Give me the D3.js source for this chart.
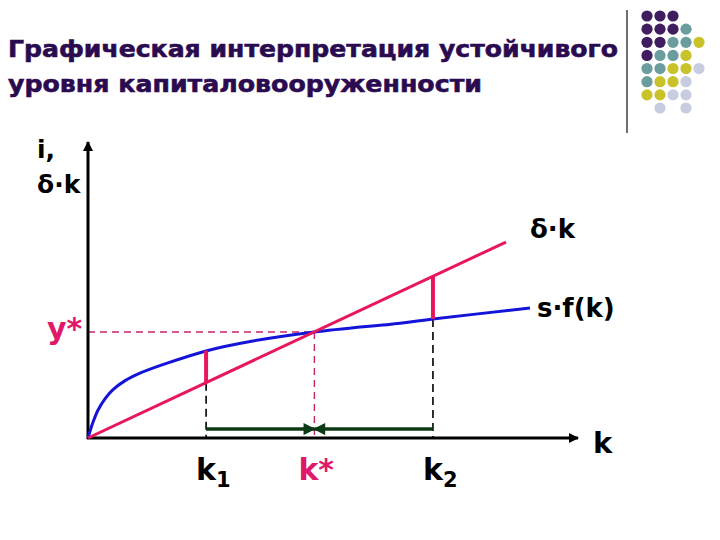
<!DOCTYPE html>
<html>
<head>
<meta charset="utf-8">
<script src="https://cdn.jsdelivr.net/npm/d3@7"></script>
<style>
  html, body { margin: 0; padding: 0; background: #fff; }
  svg text { font-family: "DejaVu Sans", Verdana, sans-serif; font-weight: bold; }
</style>
</head>
<body>
<div id="chart"></div>
<script>
// chart values (k units along the horizontal axis, i / output along the vertical)
const titleLines = ["Графическая интерпретация устойчивого", "уровня капиталовооруженности"];
const titleWidths = [610, 474];
const savingCurve = [[0, 0], [0.1, 0.52], [0.2, 0.93], [0.35, 1.33], [0.5, 1.62], [0.75, 1.93],
                     [1.06, 2.19], [1.6, 2.52], [2.43, 2.95], [3.31, 3.26], [4.62, 3.58],
                     [6.37, 3.88], [7.04, 4.02], [9.02, 4.39]];
const depreciationLine = [[0, 0], [8.53, 6.62]];
const kMarks = [{name: "k1", k: 2.41, curve: 2.95, line: 1.87},
                {name: "k2", k: 7.04, curve: 4.02, line: 5.46}];
const steady = {k: 4.62, y: 3.58};
const arrowY = 0.3;
// decoration dots, top right (P purple, T teal, Y yellow, L lavender)
const dotRows = ["PPP..", "PPPT.", "PPTTY", "PTTY.", "TTYYL", "TYYL.", "YYLL.", ".L.L."];
const dotColors = {P: "#3f1d5e", T: "#6b9c9e", Y: "#c9c22a", L: "#c8cce0"};

const W = 720, H = 540;
const svg = d3.select("#chart").append("svg").attr("width", W).attr("height", H);

const x = d3.scaleLinear().domain([0, 10]).range([88, 578]);
const y = d3.scaleLinear().domain([0, 10]).range([438, 142]);

const defs = svg.append("defs");
function marker(id, color, w, h) {
  defs.append("marker").attr("id", id)
    .attr("viewBox", "0 0 10 10").attr("refX", 9).attr("refY", 5)
    .attr("markerWidth", w).attr("markerHeight", h)
    .attr("markerUnits", "userSpaceOnUse")
    .attr("orient", "auto")
    .append("path").attr("d", "M0,0L10,5L0,10Z").attr("fill", color);
}
marker("axArrow", "#000", 12, 10);
marker("grArrow", "#0b3a14", 14, 12);

// title
svg.append("g").selectAll("text").data(titleLines).join("text")
  .attr("x", 8).attr("y", (d, i) => 57 + i * 35)
  .attr("font-size", 23).attr("fill", "#2b0b50")
  .attr("stroke", "#2b0b50").attr("stroke-width", 0.6)
  .attr("textLength", (d, i) => titleWidths[i]).attr("lengthAdjust", "spacingAndGlyphs")
  .text(d => d);

// separator + dots
svg.append("line").attr("x1", 627).attr("x2", 627).attr("y1", 10).attr("y2", 133)
  .attr("stroke", "#222").attr("stroke-width", 1.3);
const dx = d3.scaleLinear().domain([0, 4]).range([647, 699]);
const dy = d3.scaleLinear().domain([0, 7]).range([16, 108]);
const dots = [];
dotRows.forEach((row, r) => row.split("").forEach((c, ci) => { if (c !== ".") dots.push({r, ci, c}); }));
svg.append("g").selectAll("circle").data(dots).join("circle")
  .attr("cx", d => dx(d.ci)).attr("cy", d => dy(d.r)).attr("r", 5.6)
  .attr("fill", d => dotColors[d.c]);

// guides
const guides = svg.append("g");
kMarks.forEach(m => {
  guides.append("line").attr("x1", x(m.k)).attr("x2", x(m.k))
    .attr("y1", y(Math.min(m.curve, m.line))).attr("y2", y(0))
    .attr("stroke", "#000").attr("stroke-width", 1.6).attr("stroke-dasharray", "8,5");
});
guides.append("line").attr("x1", x(0)).attr("x2", x(steady.k)).attr("y1", y(steady.y)).attr("y2", y(steady.y))
  .attr("stroke", "#c8246a").attr("stroke-width", 1.4).attr("stroke-dasharray", "7,5");
guides.append("line").attr("x1", x(steady.k)).attr("x2", x(steady.k)).attr("y1", y(steady.y)).attr("y2", y(0))
  .attr("stroke", "#c8246a").attr("stroke-width", 1.4).attr("stroke-dasharray", "7,5");

// green convergence arrows
kMarks.forEach(m => {
  svg.append("line").attr("x1", x(m.k)).attr("x2", x(steady.k)).attr("y1", y(arrowY)).attr("y2", y(arrowY))
    .attr("stroke", "#0b3a14").attr("stroke-width", 3.5).attr("marker-end", "url(#grArrow)");
});

// axes
svg.append("line").attr("x1", x(0)).attr("x2", x(0)).attr("y1", y(0) + 1).attr("y2", y(10))
  .attr("stroke", "#000").attr("stroke-width", 3).attr("marker-end", "url(#axArrow)");
svg.append("line").attr("x1", x(0) - 1).attr("x2", x(10)).attr("y1", y(0)).attr("y2", y(0))
  .attr("stroke", "#000").attr("stroke-width", 3).attr("marker-end", "url(#axArrow)");

// curves
const line = d3.line().x(d => x(d[0])).y(d => y(d[1]));
svg.append("path").datum(savingCurve).attr("d", line.curve(d3.curveCatmullRom.alpha(0.5)))
  .attr("fill", "none").attr("stroke", "#1414d8").attr("stroke-width", 3);
svg.append("path").datum(depreciationLine).attr("d", d3.line().x(d => x(d[0])).y(d => y(d[1])))
  .attr("fill", "none").attr("stroke", "#e8175d").attr("stroke-width", 3);

// gaps between the curves
svg.append("g").selectAll("line").data(kMarks).join("line")
  .attr("x1", d => x(d.k)).attr("x2", d => x(d.k))
  .attr("y1", d => y(d.curve)).attr("y2", d => y(d.line))
  .attr("stroke", "#e8175d").attr("stroke-width", 4);

// labels
const lab = svg.append("g");
lab.append("text").attr("x", 37).attr("y", 158).attr("font-size", 25).text("i,");
lab.append("text").attr("x", 37).attr("y", 193).attr("font-size", 25).text("δ·k");
lab.append("text").attr("x", 530).attr("y", 238).attr("font-size", 26).text("δ·k");
lab.append("text").attr("x", 537).attr("y", 317).attr("font-size", 26).text("s·f(k)");
lab.append("text").attr("x", 593).attr("y", 453).attr("font-size", 29).text("k");
lab.append("text").attr("x", 47).attr("y", 339).attr("font-size", 30).attr("fill", "#e0186a").text("y*");
lab.append("text").attr("x", x(steady.k) - 16).attr("y", 480).attr("font-size", 30).attr("fill", "#e0186a").text("k*");
kMarks.forEach((m, i) => {
  const t = lab.append("text").attr("x", x(m.k) - 10).attr("y", 480).attr("font-size", 30);
  t.append("tspan").text("k");
  t.append("tspan").attr("font-size", 21).attr("dy", 7).text(String(i + 1));
});
</script>
</body>
</html>
